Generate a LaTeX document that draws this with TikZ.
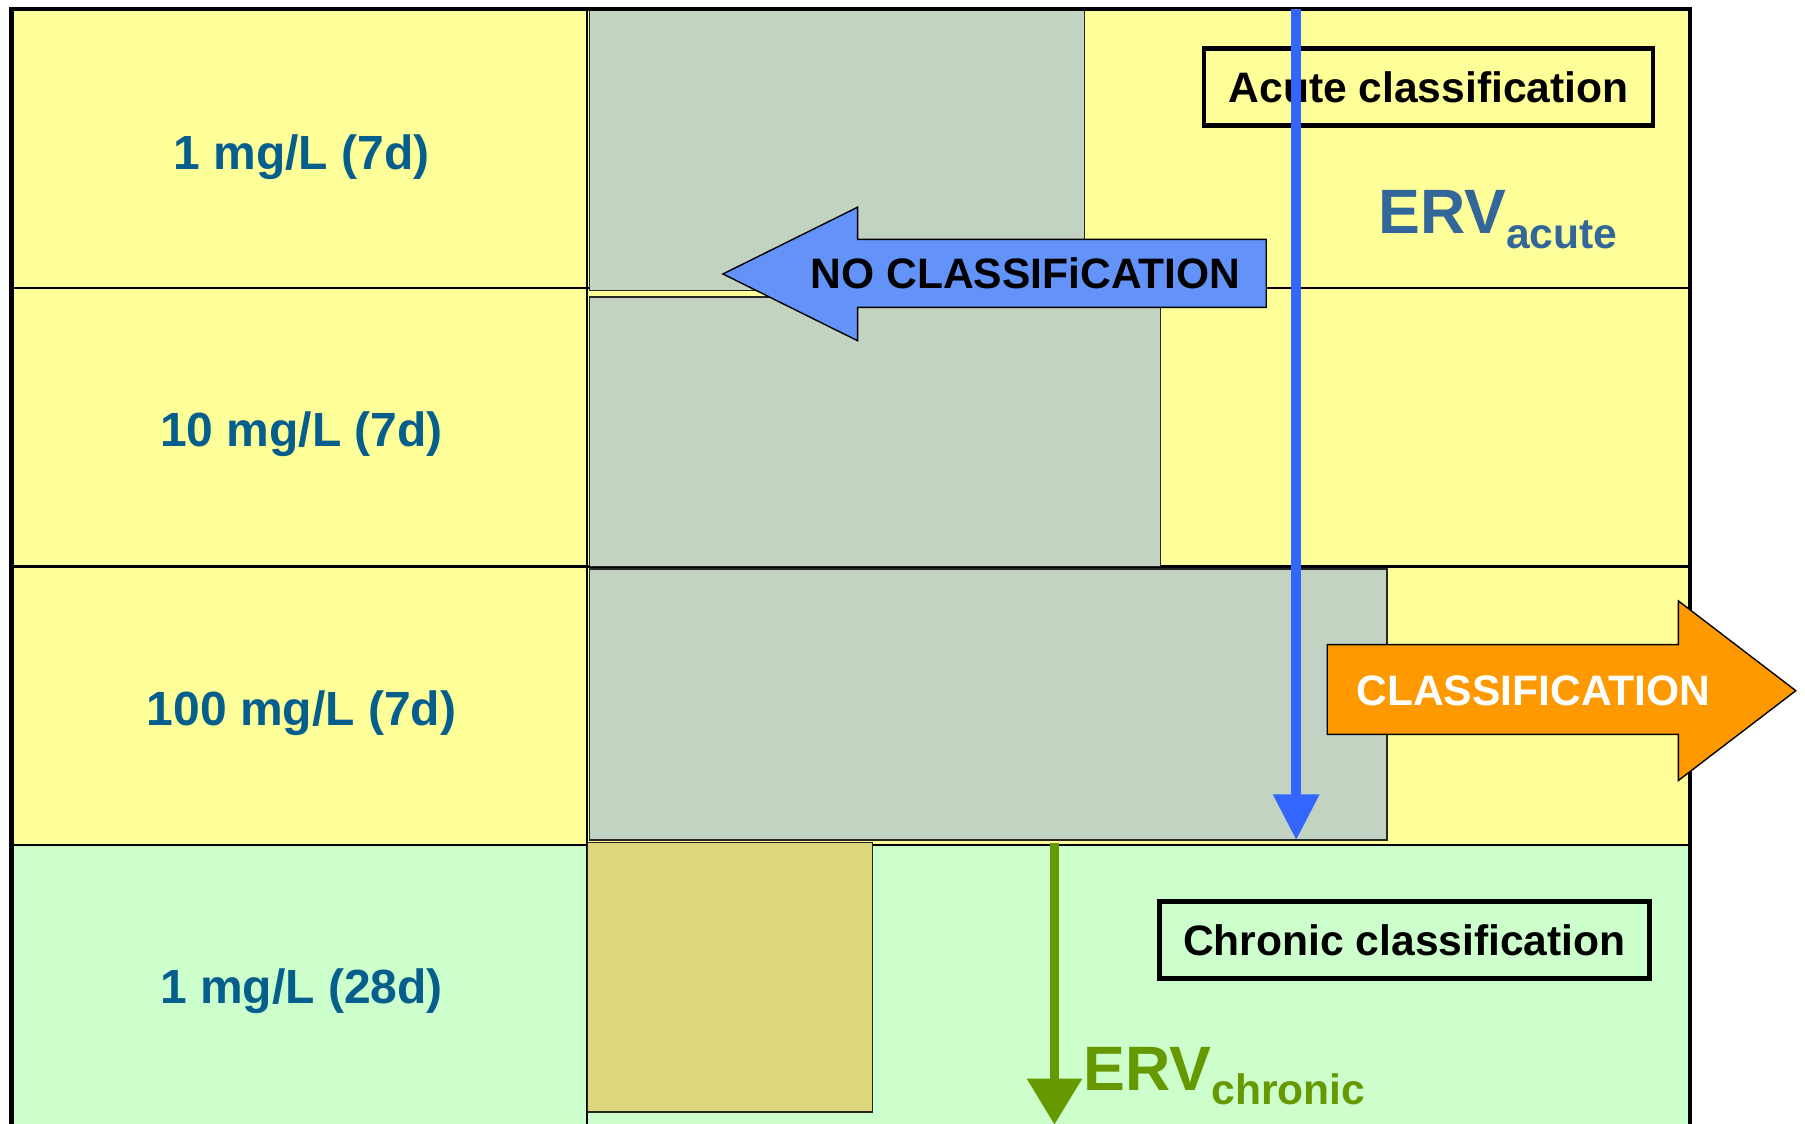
\documentclass[tikz,border=0pt]{standalone}
\usepackage{fontspec}
\setmainfont{Liberation Sans}
\usetikzlibrary{arrows.meta}

\definecolor{cellyellow}{HTML}{FFFF99}
\definecolor{cellgreen}{HTML}{CCFFCC}
\definecolor{bargrey}{HTML}{C2D3C1}
\definecolor{bargold}{HTML}{DDD67B}
\definecolor{labelblue}{HTML}{065E8C}
\definecolor{ervblue}{HTML}{336699}
\definecolor{acuteblue}{HTML}{3366FF}
\definecolor{noblue}{HTML}{6393F8}
\definecolor{classorange}{HTML}{FF9900}
\definecolor{chronicgreen}{HTML}{669900}

\tikzset{
  rowlabel/.style={font=\fontsize{41.7}{48}\selectfont\bfseries, text=labelblue, anchor=base, inner sep=0pt},
  classbox/.style={draw=black, line width=4pt, minimum height=67pt, inner sep=0pt,
                   font=\fontsize{37}{42}\selectfont\bfseries},
  arrowtext/.style={font=\fontsize{37}{42}\selectfont\bfseries, anchor=base, inner sep=0pt},
  barbox/.style={draw=black!85, line width=1pt},
  gridline/.style={draw=black, line width=2pt},
  ervlabel/.style={font=\bfseries, anchor=base west, inner sep=0pt},
}

\newcommand{\ervtext}[1]{{\fontsize{54.5}{60}\selectfont ERV}\raisebox{-12.5pt}{\fontsize{37}{42}\selectfont #1}}

\begin{document}
\begin{tikzpicture}[x=1pt,y=-1pt]
  \useasboundingbox (0,0) rectangle (1568,976);
  \fill[white] (0,0) rectangle (1568,976);

  % cell backgrounds
  \fill[cellyellow] (10,8) rectangle (1468,734);
  \fill[cellgreen] (10,734) rectangle (1468,976);

  % grid lines
  \draw[gridline] (10,250) -- (1468,250);
  \draw[gridline] (10,492) -- (1468,492);
  \draw[gridline] (10,734) -- (1468,734);
  \draw[gridline] (510,8) -- (510,976);

  % effect bars
  \draw[barbox, fill=bargrey] (512,8) rectangle (942,252);
  \draw[barbox, fill=bargrey] (512,258) rectangle (1008,492);
  \draw[barbox, fill=bargrey, line width=1.5pt] (512,494) rectangle (1205,730);
  \draw[barbox, fill=bargold] (510,732) rectangle (758,966);

  % outer frame
  \draw[black, line width=3.5pt] (10,976) -- (10,8) -- (1468,8) -- (1468,976);

  % row labels
  \node[rowlabel] (r1) at (262,147) {1 mg/L (7d)};
  \node[rowlabel] (r2) at (262,388) {10 mg/L (7d)};
  \node[rowlabel] (r3) at (262,630) {100 mg/L (7d)};
  \node[rowlabel] (r4) at (262,872) {1 mg/L (28d)};

  % block arrow: no classification
  \draw[black, line width=1.2pt, fill=noblue]
    (1100,208) -- (745,208) -- (745,180) -- (628,238) -- (745,296) -- (745,267) -- (1100,267) -- cycle;
  \node[arrowtext, text=black] (noclass) at (891,251) {NO CLASSIFiCATION};

  % block arrow: classification
  \draw[black, line width=1.2pt, fill=classorange]
    (1153,560) -- (1458,560) -- (1458,522) -- (1560,600) -- (1458,678) -- (1458,638) -- (1153,638) -- cycle;
  \node[arrowtext, text=white] (class) at (1332,613) {CLASSIFICATION};

  % classification boxes
  \node[classbox, minimum width=390pt] (acute) at (1241,75.5) {Acute classification};
  \node[classbox, minimum width=426pt] (chronic) at (1220,816.5) {Chronic classification};

  % effect reference values
  \node[ervlabel, text=ervblue] (ervacute) at (1197,203) {\ervtext{acute}};
  \node[ervlabel, text=chronicgreen] (ervchronic) at (941,947) {\ervtext{chronic}};

  % threshold arrows
  \coordinate (acutetop) at (1126,8);
  \coordinate (acutetip) at (1126,730);
  \draw[acuteblue, line width=9pt, -{Triangle[width=38pt,length=40pt]}] (acutetop) -- (acutetip);
  \coordinate (chronictop) at (916,732);
  \coordinate (chronictip) at (916,977);
  \draw[chronicgreen, line width=8pt, -{Triangle[width=46pt,length=40pt]}] (chronictop) -- (chronictip);
\end{tikzpicture}
\end{document}
